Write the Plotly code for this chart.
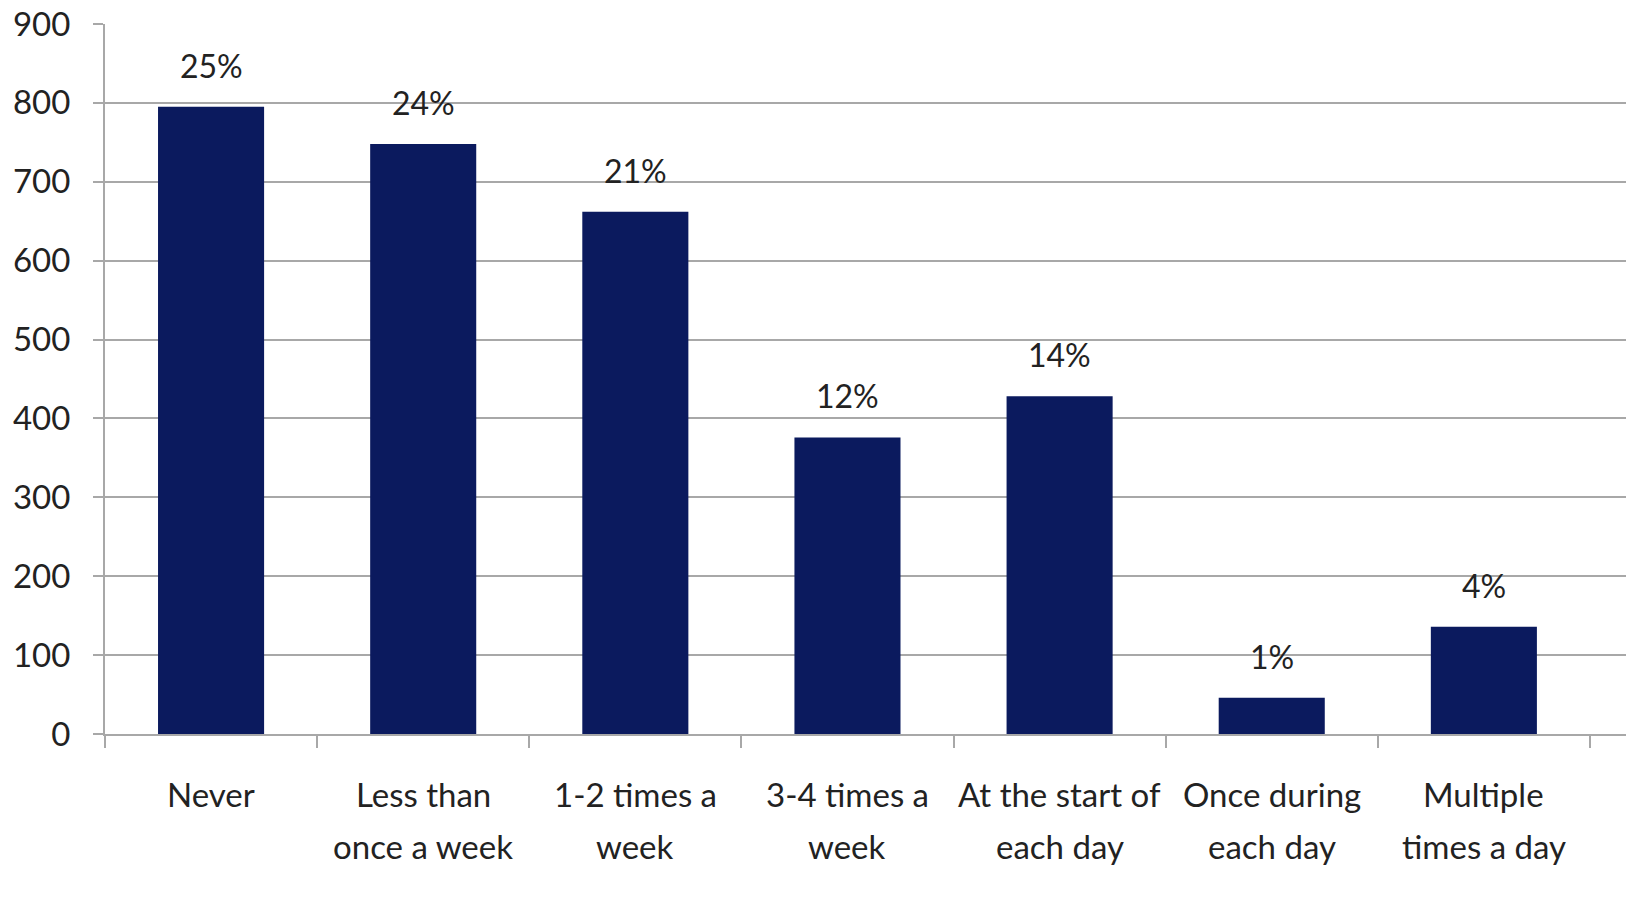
import plotly.graph_objects as go

categories = ["Never", "Less than<br>once a week", "1-2 times a<br>week", "3-4 times a<br>week",
              "At the start of<br>each day", "Once during<br>each day", "Multiple<br>times a day"]
counts = [795, 748, 662, 376, 428, 46, 136]
percents = ["25%", "24%", "21%", "12%", "14%", "1%", "4%"]
y_ticks = [0, 100, 200, 300, 400, 500, 600, 700, 800, 900]

FONT = "Lato"
TXT = "#222222"
GRID = "#A8A8A8"
fig = go.Figure()
fig.add_trace(go.Bar(x=categories, y=counts, marker=dict(color="#0B1A5E", line=dict(width=0)),
                     width=0.5, showlegend=False))
for c, v, p in zip(categories, counts, percents):
    fig.add_annotation(x=c, y=v, text=p, showarrow=False, yanchor="bottom", yshift=20,
                       font=dict(family=FONT, size=32, color=TXT))
# category labels, one annotation per line
for c in categories:
    for i, line in enumerate(c.split("<br>")):
        fig.add_annotation(x=c, xref="x", y=0, yref="paper", text=line, showarrow=False,
                           yanchor="middle", yshift=-60 - 52 * i,
                           font=dict(family=FONT, size=33, color=TXT))

fig.update_layout(
    width=1626, height=905, paper_bgcolor="white", plot_bgcolor="white",
    margin=dict(l=105, r=0, t=24, b=171),
    font=dict(family=FONT, size=33, color=TXT),
)
fig.update_yaxes(range=[0, 900], tickvals=y_ticks, showgrid=True, gridcolor=GRID, gridwidth=2,
                 showline=True, linecolor=GRID, linewidth=2, ticks="outside", ticklen=10,
                 tickcolor=GRID, tickwidth=2, zeroline=False, ticklabelstandoff=16)
fig.update_xaxes(range=[-0.5, 6.67], showline=True, linecolor=GRID, linewidth=2,
                 ticks="outside", tickson="boundaries", ticklen=12, tickcolor=GRID, tickwidth=2,
                 showgrid=False, showticklabels=False)
fig.write_html("out.html", config={"displayModeBar": False},
               post_script="document.body.style.margin='0';")
